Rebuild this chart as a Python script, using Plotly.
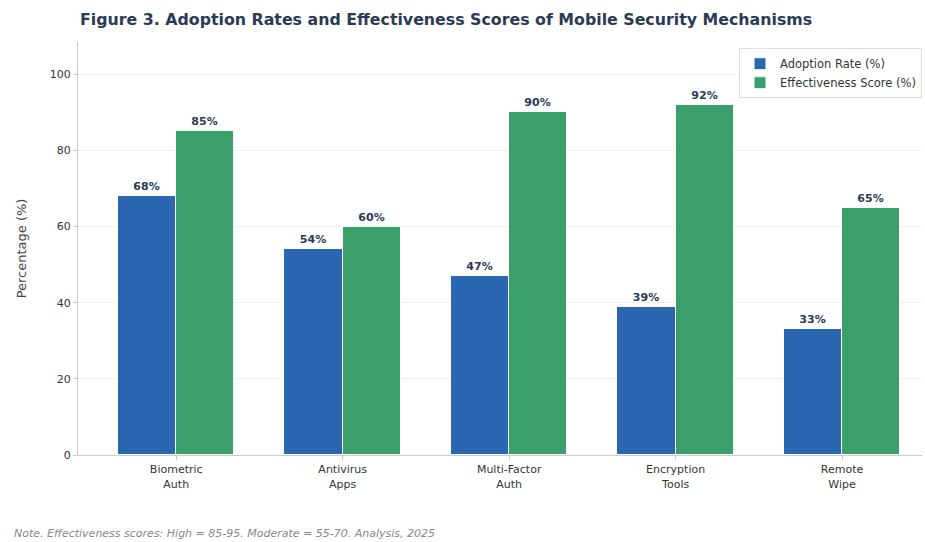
import plotly.graph_objects as go

categories = ["Biometric<br>Auth", "Antivirus<br>Apps", "Multi-Factor<br>Auth", "Encryption<br>Tools", "Remote<br>Wipe"]
adoption = [68, 54, 47, 39, 33]
effectiveness = [85, 60, 90, 92, 65]
y_ticks = [0, 20, 40, 60, 80, 100]

BLUE = "#2b67b1"
GREEN = "#3a9f6b"
NAVY = "#2b3a55"
FONT = "DejaVu Sans"

x = list(range(len(categories)))
w = 0.35

fig = go.Figure()
fig.add_bar(
    x=[i - w / 2 for i in x], y=adoption, width=w, name="Adoption Rate (%)",
    marker=dict(color=BLUE, line=dict(color="white", width=1)),
    text=[f"{v}%" for v in adoption], textposition="outside",
    textfont=dict(family=FONT, size=11, color=NAVY, weight="bold"), cliponaxis=False,
)
fig.add_bar(
    x=[i + w / 2 for i in x], y=effectiveness, width=w, name="Effectiveness Score (%)",
    marker=dict(color=GREEN, line=dict(color="white", width=1)),
    text=[f"{v}%" for v in effectiveness], textposition="outside",
    textfont=dict(family=FONT, size=11, color=NAVY, weight="bold"), cliponaxis=False,
)

fig.update_layout(
    width=925, height=542,
    margin=dict(l=78, r=3, t=42, b=87),
    paper_bgcolor="white", plot_bgcolor="white",
    font=dict(family=FONT, size=11, color="#333333"),
    title=dict(text="<b>Figure 3. Adoption Rates and Effectiveness Scores of Mobile Security Mechanisms</b>",
               xref="paper", x=2 / 844, xanchor="left", y=0.975, yanchor="top",
               font=dict(family=FONT, size=15.8, color=NAVY)),
    barmode="overlay", bargap=0,
    showlegend=True,
    legend=dict(x=1.0, xanchor="right", y=0.985, yanchor="top",
                bordercolor="#dddddd", borderwidth=1, bgcolor="rgba(255,255,255,0.9)",
                font=dict(family=FONT, size=11.5, color="#333333")),
    xaxis=dict(tickmode="array", tickvals=x, ticktext=categories, range=[-0.59, 4.48],
               showline=True, linecolor="#cccccc", linewidth=1, ticks="outside",
               tickcolor="#cccccc", ticklen=4, showgrid=False, zeroline=False,
               tickfont=dict(family=FONT, size=11, color="#333333")),
    yaxis=dict(range=[0, 108.5], tickvals=y_ticks, showline=True, linecolor="#cccccc",
               linewidth=1, ticks="outside", tickcolor="#cccccc", ticklen=4,
               showgrid=True, gridcolor="#f0f0f0", zeroline=False,
               title=dict(text="Percentage (%)", font=dict(family=FONT, size=13, color="#444444"), standoff=20),
               tickfont=dict(family=FONT, size=11, color="#333333")),
)

fig.add_annotation(
    text="<i>Note. Effectiveness scores: High = 85-95. Moderate = 55-70. Analysis, 2025</i>",
    xref="paper", yref="paper", x=-66 / 844, y=-78 / 413, xanchor="left", yanchor="middle",
    showarrow=False, font=dict(family=FONT, size=11, color="#888888"),
)

fig.write_html("out.html")
